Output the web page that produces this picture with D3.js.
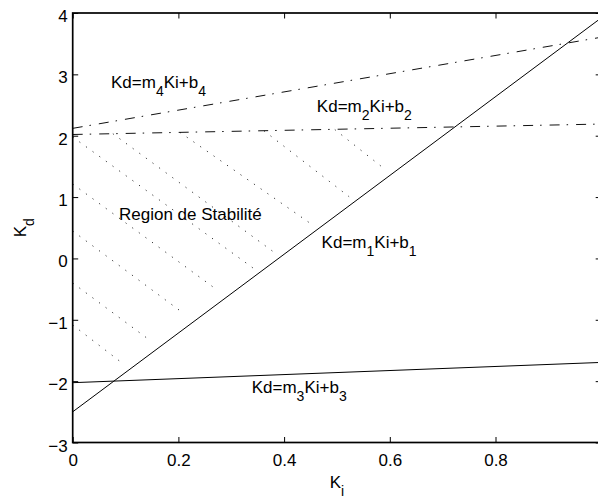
<!DOCTYPE html>
<html>
<head>
<meta charset="utf-8">
<script src="https://cdn.jsdelivr.net/npm/d3@7/dist/d3.min.js"></script>
<style>
  html, body { margin: 0; padding: 0; background: #fff; }
  svg { display: block; }
</style>
</head>
<body>
<script>
// ---------------- data ----------------
const xTicks = [0, 0.2, 0.4, 0.6, 0.8, 1];
const xTickLabels = ["0", "0.2", "0.4", "0.6", "0.8", ""];
const yTicks = [-3, -2, -1, 0, 1, 2, 3, 4];
const yTickLabels = ["\u22123", "\u22122", "\u22121", "0", "1", "2", "3", "4"];

// boundary lines Kd = m Ki + b, given by their end points
const kiEnds = [0, 1];
const kdM1 = [-2.5, 3.92];    // solid
const kdM2 = [2.02, 2.19];    // dash-dot
const kdM3 = [-2.025, -1.695];// solid
const kdM4 = [2.12, 3.605];   // dash-dot

// dotted hatching of the stability region (start / end points)
const hatchKiStart = [0, 0, 0, 0, 0, 0.076, 0.203, 0.362, 0.496];
const hatchKdStart = [-1.085, -0.40, 0.447, 1.213, 1.979, 2.033, 2.055, 2.08, 2.10];
const hatchKiEnd   = [0.0927, 0.141, 0.208, 0.269, 0.342, 0.388, 0.454, 0.523, 0.587];
const hatchKdEnd   = [-1.699, -1.302, -0.884, -0.487, -0.161, 0.056, 0.545, 1.006, 1.479];

// annotations
const annMain = [["Kd=m", "Ki+b"], ["Kd=m", "Ki+b"], ["Kd=m", "Ki+b"], ["Kd=m", "Ki+b"]];
const annSub  = ["4", "2", "1", "3"];
const annKi   = [0.0725, 0.462, 0.471, 0.3387];
const annKd   = [2.778, 2.387, 0.170, -2.198];
const regionText = "Region de Stabilité";
const regionKi = 0.0876, regionKd = 0.627;

// ---------------- chart ----------------
const W = 598, H = 501;
const FONT = "'Liberation Sans', Arial, Helvetica, sans-serif";
const FS = 17, FSUB = 14, SUBDY = 8;

const svg = d3.select("body").append("svg").attr("width", W).attr("height", H);
svg.append("rect").attr("width", W).attr("height", H).attr("fill", "#fff");

const L = 72.7, R = 601.2, T = 13, B = 442.5;
const x = d3.scaleLinear().domain([0, 1]).range([L, R]);
const y = d3.scaleLinear().domain([-3, 4]).range([B, T]);

svg.append("clipPath").attr("id", "clip")
  .append("rect").attr("x", L).attr("y", T).attr("width", R - L).attr("height", B - T);

const plot = svg.append("g").attr("clip-path", "url(#clip)");
const line = d3.line().x(d => x(d[0])).y(d => y(d[1]));

// hatching
hatchKiStart.forEach((k, i) => {
  plot.append("path")
    .attr("d", line([[k, hatchKdStart[i]], [hatchKiEnd[i], hatchKdEnd[i]]]))
    .attr("fill", "none").attr("stroke", "#333").attr("stroke-width", 1)
    .attr("stroke-dasharray", "1.2,7");
});

function drawLine(kd, dash, color) {
  plot.append("path")
    .attr("d", line(kiEnds.map((k, i) => [k, kd[i]])))
    .attr("fill", "none").attr("stroke", color).attr("stroke-width", 1)
    .attr("stroke-dasharray", dash);
}
drawLine(kdM1, null, "#000");
drawLine(kdM3, null, "#000");
drawLine(kdM2, "10,7,1.5,8", "#111");
drawLine(kdM4, "10,7,1.5,8", "#111");

// axes
function styleAxis(g) {
  g.select(".domain").remove();
  g.selectAll(".tick line").attr("stroke", "#000").attr("stroke-width", 1);
  g.selectAll("text").attr("font-family", FONT).attr("font-size", FS).attr("fill", "#000");
}
svg.append("g").attr("transform", `translate(0,${B})`)
  .call(d3.axisBottom(x).tickValues(xTicks).tickFormat((d, i) => xTickLabels[i])
    .tickSizeInner(-5.5).tickSizeOuter(0).tickPadding(11.4))
  .call(styleAxis);
svg.append("g").attr("transform", `translate(0,${T})`)
  .call(d3.axisTop(x).tickValues(xTicks).tickFormat("")
    .tickSizeInner(-5.5).tickSizeOuter(0))
  .call(styleAxis);
svg.append("g").attr("transform", `translate(${L},0)`)
  .call(d3.axisLeft(y).tickValues(yTicks).tickFormat((d, i) => yTickLabels[i])
    .tickSizeInner(-5.5).tickSizeOuter(0).tickPadding(5))
  .call(styleAxis)
  .call(g => g.selectAll("text").attr("dy", null).attr("y", 8.5));
svg.append("g").attr("transform", `translate(${R},0)`)
  .call(d3.axisRight(y).tickValues(yTicks).tickFormat("")
    .tickSizeInner(-5.5).tickSizeOuter(0))
  .call(styleAxis);

// frame
svg.append("rect").attr("x", L).attr("y", T).attr("width", R - L).attr("height", B - T)
  .attr("fill", "none").attr("stroke", "#000").attr("stroke-width", 1.7);

// annotations
annMain.forEach((parts, i) => {
  const t = svg.append("text").attr("x", x(annKi[i])).attr("y", y(annKd[i]))
    .attr("font-family", FONT).attr("font-size", FS).attr("fill", "#000");
  t.append("tspan").text(parts[0]);
  t.append("tspan").attr("font-size", FSUB).attr("dy", SUBDY).text(annSub[i]);
  t.append("tspan").attr("dy", -SUBDY).text(parts[1]);
  t.append("tspan").attr("font-size", FSUB).attr("dy", SUBDY).text(annSub[i]);
});
svg.append("text").attr("x", x(regionKi)).attr("y", y(regionKd))
  .attr("font-family", FONT).attr("font-size", FS).attr("fill", "#000").text(regionText);

// axis labels
const xl = svg.append("text").attr("x", (L + R) / 2).attr("y", 488)
  .attr("text-anchor", "middle").attr("font-family", FONT).attr("font-size", FS);
xl.append("tspan").text("K");
xl.append("tspan").attr("font-size", FSUB).attr("dy", SUBDY).text("i");

const yl = svg.append("text").attr("transform", `translate(26,${(T + B) / 2}) rotate(-90)`)
  .attr("text-anchor", "middle").attr("font-family", FONT).attr("font-size", FS);
yl.append("tspan").text("K");
yl.append("tspan").attr("font-size", FSUB).attr("dy", SUBDY).text("d");
</script>
</body>
</html>
